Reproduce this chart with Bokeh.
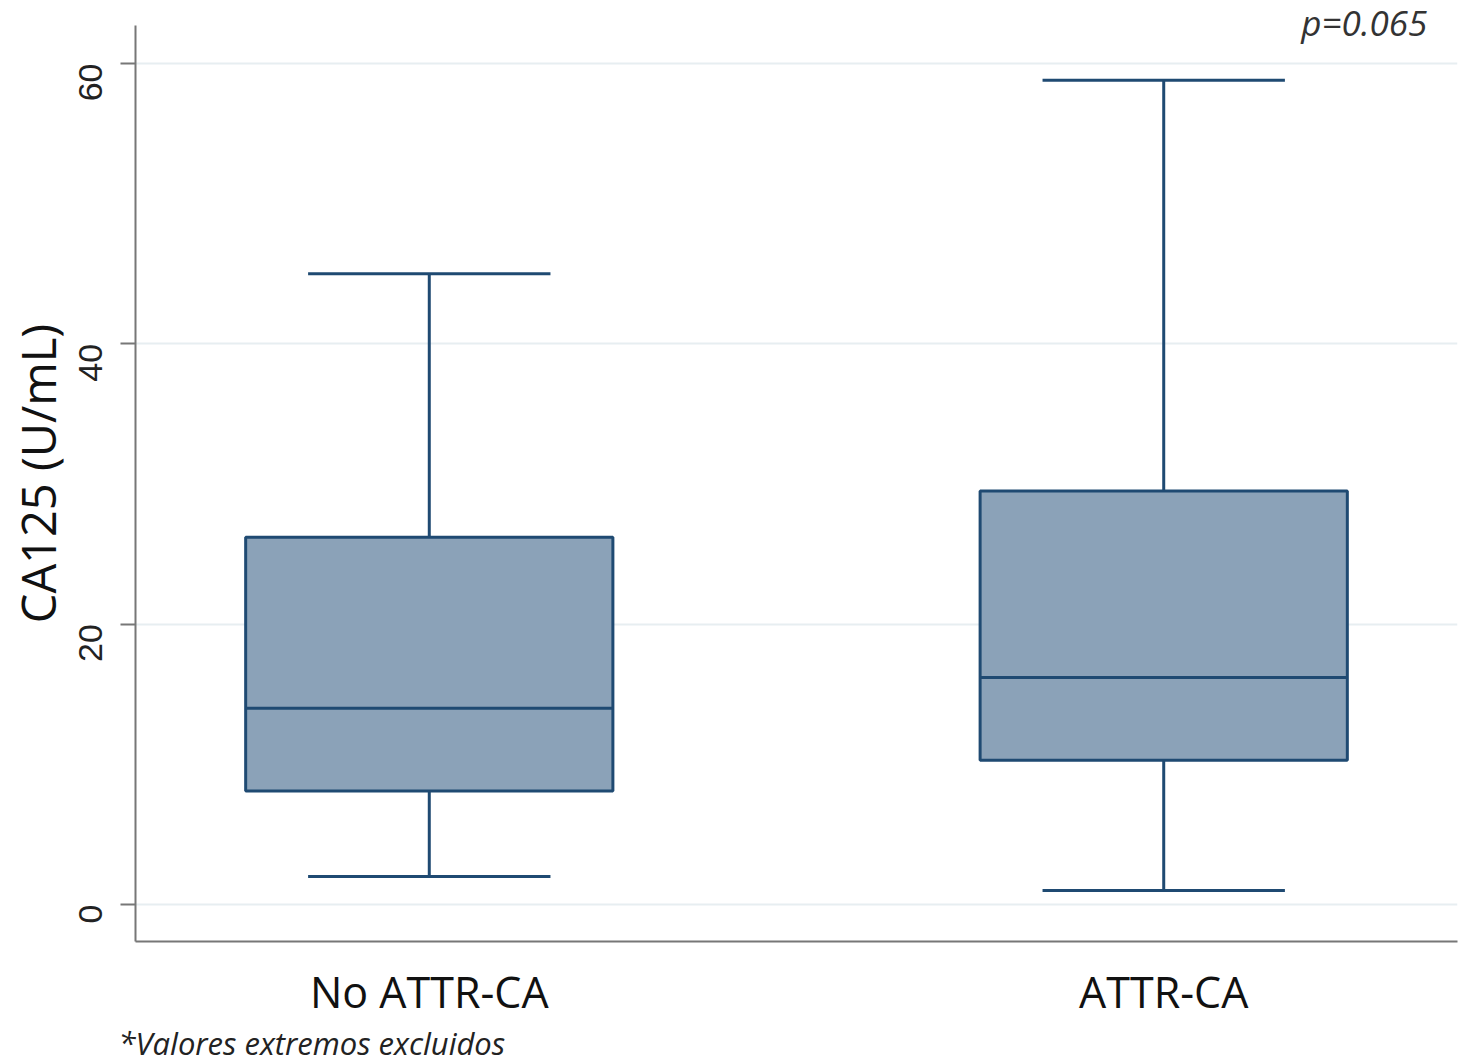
import math
from bokeh.plotting import figure
from bokeh.models import ColumnDataSource, Range1d, FixedTicker, Label, Title
from bokeh.embed import file_html
from bokeh.resources import INLINE

# ---- data ----
categories = ["No ATTR-CA", "ATTR-CA"]
lower_whisker = [2.0, 1.0]
q1 = [8.1, 10.3]
median = [14.0, 16.2]
q3 = [26.2, 29.5]
upper_whisker = [45.0, 58.8]
y_ticks = [0, 20, 40, 60]
p_text = "p=0.065"
footnote = "*Valores extremos excluidos"

xs = [i + 1 for i in range(len(categories))]
box_w = 0.5
cap_w = 0.33

src = ColumnDataSource(dict(
    x=xs, lo=lower_whisker, q1=q1, med=median, q3=q3, hi=upper_whisker,
    bl=[x - box_w / 2 for x in xs], br=[x + box_w / 2 for x in xs],
    cl=[x - cap_w / 2 for x in xs], cr=[x + cap_w / 2 for x in xs],
))

fill = "#8ba2b8"
edge = "#1f4a72"

p = figure(width=1458, height=1064, output_backend="svg", toolbar_location=None,
           x_range=Range1d(0.6, 2.4), y_range=Range1d(-2.64, 64.14),
           min_border_left=135, min_border_top=5, min_border_bottom=123,
           min_border_right=1)
p.outline_line_color = None
p.background_fill_color = "white"

# grid
p.xgrid.grid_line_color = None
p.ygrid.grid_line_color = "#e7eef1"
p.ygrid.grid_line_width = 2
p.ygrid.ticker = FixedTicker(ticks=y_ticks)

# whiskers
p.segment(x0="x", y0="q3", x1="x", y1="hi", source=src, line_color=edge, line_width=3)
p.segment(x0="x", y0="lo", x1="x", y1="q1", source=src, line_color=edge, line_width=3)
p.segment(x0="cl", y0="hi", x1="cr", y1="hi", source=src, line_color=edge, line_width=3)
p.segment(x0="cl", y0="lo", x1="cr", y1="lo", source=src, line_color=edge, line_width=3)
# boxes
p.quad(left="bl", right="br", bottom="q1", top="q3", source=src,
       fill_color=fill, line_color=edge, line_width=3)
p.segment(x0="bl", y0="med", x1="br", y1="med", source=src, line_color=edge, line_width=3)

# y axis
p.yaxis.bounds = (-2.64, 62.7)
p.yaxis.ticker = FixedTicker(ticks=y_ticks)
p.yaxis.major_label_orientation = math.pi / 2
p.yaxis.major_label_text_font = "Liberation Sans"
p.yaxis.major_label_text_font_size = "34px"
p.yaxis.major_label_text_color = "#222222"
p.yaxis.major_label_standoff = 30
p.yaxis.major_tick_out = 15
p.yaxis.major_tick_in = 0
p.yaxis.minor_tick_out = 0
p.yaxis.minor_tick_in = 0
p.yaxis.major_tick_line_color = "#777777"
p.yaxis.major_tick_line_width = 2
p.yaxis.axis_line_color = "#777777"
p.yaxis.axis_line_width = 2
p.yaxis.axis_label = "CA125 (U/mL)"
p.yaxis.axis_label_text_font = "Open Sans"
p.yaxis.axis_label_text_font_style = "normal"
p.yaxis.axis_label_text_font_size = "47px"
p.yaxis.axis_label_text_color = "#111111"
p.yaxis.axis_label_standoff = -5

# x axis
p.xaxis.ticker = FixedTicker(ticks=xs)
p.xaxis.major_label_overrides = {x: c for x, c in zip(xs, categories)}
p.xaxis.major_label_text_font = "Open Sans"
p.xaxis.major_label_text_font_size = "43px"
p.xaxis.major_label_text_color = "#111111"
p.xaxis.major_label_standoff = 20
p.xaxis.major_tick_out = 0
p.xaxis.major_tick_in = 0
p.xaxis.minor_tick_out = 0
p.xaxis.minor_tick_in = 0
p.xaxis.axis_line_color = "#777777"
p.xaxis.axis_line_width = 2

# annotations
p.add_layout(Label(x=2.359, y=62.9, text=p_text, text_align="right",
                   text_baseline="alphabetic", text_font="Open Sans",
                   text_font_style="italic", text_font_size="35px",
                   text_color="#333333"))
p.add_layout(Title(text=footnote, align="left", offset=-17, standoff=-8,
                   text_font="Open Sans", text_font_style="italic",
                   text_font_size="31px", text_color="#222222"), "below")

open("out.html", "w").write(file_html(p, INLINE))
